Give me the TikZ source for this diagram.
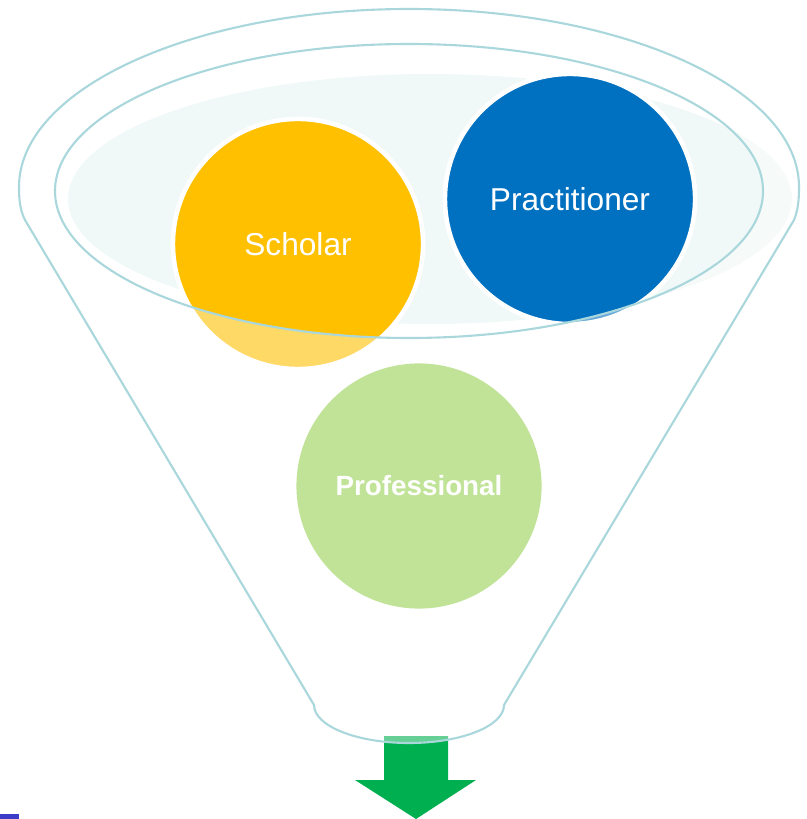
\documentclass[tikz,border=0pt]{standalone}
\usepackage{fontspec}
\setmainfont{Liberation Sans}

\definecolor{funnelline}{RGB}{170,215,220}
\definecolor{palefill}{RGB}{240,249,248}
\definecolor{scholarcol}{RGB}{255,192,0}
\definecolor{practcol}{RGB}{0,112,192}
\definecolor{profcol}{RGB}{192,227,152}
\definecolor{arrowcol}{RGB}{0,176,80}
\definecolor{markcol}{RGB}{60,60,200}

% outline of the funnel body (pixel units)
\newcommand{\funnelshape}{(314,705) -- (25,220) .. controls (20,210) and (19,200) .. (19,187)
  arc[start angle=180, end angle=360, x radius=390, y radius=178]
  .. controls (799,200) and (798,210) .. (794,220) -- (504,705)
  arc[start angle=0, end angle=180, x radius=95, y radius=38] -- cycle}

\begin{document}
\begin{tikzpicture}[x=0.01cm, y=-0.01cm,
    rim/.style ={draw=funnelline, line width=0.6pt},
    ball/.style ={circle, inner sep=0pt, minimum size=2.45cm, text=white,
                  font=\fontsize{9}{11}\selectfont}]
   \useasboundingbox (0,0) rectangle (807,819);
   % top of the funnel
   \fill[palefill] (430,199) ellipse[x radius=362, y radius=125];
   \node[ball, minimum size=2.5cm, fill=scholarcol, draw=white, line width=1.3pt] (scholar) at (298,244) {Scholar};
   \node[ball, minimum size=2.5cm, fill=practcol, draw=white, line width=1.3pt] (practitioner) at (570,199) {Practitioner};
   % outlet arrow
   \fill[arrowcol] (384,736) -- (448,736) -- (448,780) -- (476,780) -- (416,819)
      -- (355,780) -- (384,780) -- cycle;
   % funnel body lightens what lies under it
   \fill[white, fill opacity=0.4, even odd rule] \funnelshape
      (409,191) ellipse[x radius=354, y radius=147];
   \node[ball, fill=profcol, font=\fontsize{7.9}{10}\selectfont\bfseries] (professional) at (419,486) {Professional};
   \draw[rim] \funnelshape;
   \draw[rim] (409,191) ellipse[x radius=354, y radius=147];
   \fill[markcol] (0,814) rectangle (19,819);
\end{tikzpicture}
\end{document}
